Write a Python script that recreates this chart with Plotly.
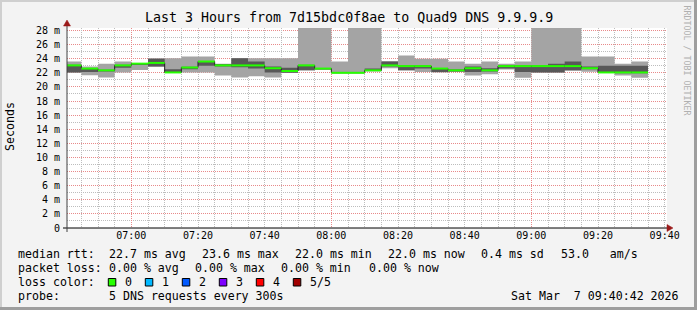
import plotly.graph_objects as go
import pandas as pd

# ---------------- data ----------------
bin_end = pd.date_range("2026-03-07 06:45:00", periods=35, freq="5min")
# sorted pings per 5 min step (ms): p1 <= p2 <= median <= p4 <= p5
ping_1 = [22.05, 21.65, 21.35, 22.05, 22.4, 22.85, 22.05, 22.05, 22.05, 21.6,
          21.35, 21.5, 21.35, 22.0, 22.3, 22.4, 22.0, 22.0, 22.2, 22.65,
          22.3, 22.1, 22.05, 22.1, 21.6, 21.8, 22.45, 21.3, 22.05, 22.05,
          22.3, 22.15, 22.05, 21.6, 21.3]
ping_2 = [22.05, 22.1, 22.2, 22.7, 23.1, 22.9, 22.05, 22.5, 23.0, 22.9,
          22.8, 22.6, 22.05, 22.0, 22.4, 22.5, 22.0, 22.0, 22.25, 22.9,
          22.4, 22.6, 22.1, 22.2, 22.1, 22.2, 22.6, 22.1, 22.05, 22.05,
          22.35, 22.5, 22.05, 21.95, 21.95]
median = [23.05, 22.6, 22.35, 23.05, 23.3, 23.4, 22.05, 22.75, 23.6, 23.05,
          23.05, 23.05, 22.65, 22.25, 23.05, 22.6, 22.0, 22.0, 22.35, 23.05,
          22.95, 22.95, 22.6, 22.35, 22.65, 22.35, 22.95, 22.95, 22.95, 22.95,
          22.95, 22.65, 22.05, 22.05, 22.05]
ping_4 = [23.05, 22.6, 22.4, 23.1, 23.35, 24.0, 22.5, 22.85, 23.65, 23.2,
          24.05, 23.6, 22.9, 22.7, 23.05, 22.6, 22.0, 22.0, 22.6, 23.6,
          22.95, 22.95, 22.65, 22.45, 22.9, 22.65, 23.0, 22.95, 22.95, 23.3,
          23.6, 22.9, 23.0, 23.0, 23.0]
ping_5 = [23.6, 22.9, 23.3, 23.6, 23.4, 24.05, 24.05, 24.3, 24.3, 23.3,
          24.05, 24.05, 24.05, 24.05, 35.0, 35.0, 23.6, 35.0, 35.0, 23.65,
          24.45, 24.0, 24.0, 23.6, 23.3, 23.6, 23.3, 23.6, 35.0, 35.0,
          35.0, 24.3, 24.3, 23.3, 23.6]

y_tick_vals = list(range(0, 29, 2))
y_tick_text = ["0"] + [f"{v} m" for v in y_tick_vals[1:]]
title_text = "Last 3 Hours from 7d15bdc0f8ae to Quad9 DNS 9.9.9.9"
row1 = ["median rtt:", "22.7 ms avg", "23.6 ms max", "22.0 ms min",
        "22.0 ms now", "0.4 ms sd", "53.0   am/s"]
row2 = ["packet loss:", "0.00 % avg", "0.00 % max", "0.00 % min", "0.00 % now"]
loss_labels = ["0", "1", "2", "3", "4", "5/5"]
loss_colors = ["#26ff00", "#00b8ff", "#0059ff", "#7e00ff", "#ff0000", "#a10000"]
probe_text = "5 DNS requests every 300s"
stamp_text = "Sat Mar  7 09:40:42 2026"

# ---------------- geometry ----------------
W, H = 697, 310
L, R, T, B = 67, 30, 28, 82
PW, PH = W - L - R, H - T - B
X0 = pd.Timestamp("2026-03-07 06:40:42")
X1 = pd.Timestamp("2026-03-07 09:40:42")
YMAX = 28.35
FONT = "DejaVu Sans Mono"


def fx(px):
    return (px - L) / PW


def fy(py):
    return (H - B - py) / PH


step = pd.Timedelta(minutes=5)
xs = list(bin_end - step) + [bin_end[-1]]


def ext(a):
    return list(a) + [a[-1]]


fig = go.Figure()
# smoke: outer band p1..p5, inner band p2..p4
fig.add_trace(go.Scatter(x=xs, y=ext(ping_1), mode="lines", line=dict(width=0, shape="hv"),
                         showlegend=False, hoverinfo="skip"))
fig.add_trace(go.Scatter(x=xs, y=ext(ping_5), mode="lines", line=dict(width=0, shape="hv"),
                         fill="tonexty", fillcolor="#a4a4a4", showlegend=False, hoverinfo="skip"))
fig.add_trace(go.Scatter(x=xs, y=ext(ping_2), mode="lines", line=dict(width=0, shape="hv"),
                         showlegend=False, hoverinfo="skip"))
fig.add_trace(go.Scatter(x=xs, y=ext(ping_4), mode="lines", line=dict(width=0, shape="hv"),
                         fill="tonexty", fillcolor="#585858", showlegend=False, hoverinfo="skip"))
# median: dark step line + green (0 loss) segments
fig.add_trace(go.Scatter(x=xs, y=ext(median), mode="lines",
                         line=dict(width=1, shape="hv", color="#202020"),
                         showlegend=False, hoverinfo="skip"))
gx, gy = [], []
for s, m in zip(bin_end, median):
    gx += [s - step, s, None]
    gy += [m, m, None]
fig.add_trace(go.Scatter(x=gx, y=gy, mode="lines", line=dict(width=2, color=loss_colors[0]),
                         showlegend=False, hoverinfo="skip"))
# dummy traces to activate grid overlay axes
for ax in ["x2", "x3"]:
    fig.add_trace(go.Scatter(x=[X0], y=[0], xaxis=ax, mode="markers",
                             marker=dict(opacity=0), showlegend=False, hoverinfo="skip"))

grid_gray = "#bdbdbd"
grid_red = "#e88a8a"
dash = "1px,1px"

fig.update_layout(
    width=W, height=H,
    margin=dict(l=L, r=R, t=T, b=B, pad=0),
    paper_bgcolor="#f3f3f3", plot_bgcolor="#ffffff",
    font=dict(family=FONT, size=10, color="#000000"),
    xaxis=dict(type="date", range=[X0, X1], showgrid=False, zeroline=False,
               tickmode="linear", tick0="2026-03-07 07:00:00", dtick=20 * 60 * 1000,
               tickformat="%H:%M", tickfont=dict(size=10, family=FONT),
               ticks="", showline=False),
    xaxis2=dict(type="date", range=[X0, X1], overlaying="x", showgrid=True,
                gridcolor=grid_gray, griddash=dash, gridwidth=1,
                tickmode="linear", tick0="2026-03-07 07:00:00", dtick=5 * 60 * 1000,
                showticklabels=False, ticks="", zeroline=False, showline=False),
    xaxis3=dict(type="date", range=[X0, X1], overlaying="x", showgrid=True,
                gridcolor=grid_red, griddash=dash, gridwidth=1,
                tickmode="linear", tick0="2026-03-07 07:00:00", dtick=60 * 60 * 1000,
                showticklabels=False, ticks="", zeroline=False, showline=False),
    yaxis=dict(range=[0, YMAX], tickmode="array", tickvals=y_tick_vals, ticktext=y_tick_text,
               showgrid=True, gridcolor=grid_red, griddash=dash, gridwidth=1,
               minor=dict(dtick=1, showgrid=True, gridcolor=grid_gray, griddash=dash, gridwidth=1),
               zeroline=False, showline=False, ticks="", ticklabelstandoff=6,
               tickfont=dict(size=10, family=FONT)),
)

shapes = []
# frame shading
shapes.append(dict(type="rect", xref="paper", yref="paper", x0=fx(0), x1=fx(W), y0=fy(2), y1=fy(0),
                   fillcolor="#cfcfcf", line=dict(width=0), layer="above"))
shapes.append(dict(type="rect", xref="paper", yref="paper", x0=fx(0), x1=fx(2), y0=fy(H), y1=fy(0),
                   fillcolor="#cfcfcf", line=dict(width=0), layer="above"))
shapes.append(dict(type="rect", xref="paper", yref="paper", x0=fx(0), x1=fx(W), y0=fy(H), y1=fy(H - 3),
                   fillcolor="#9e9e9e", line=dict(width=0), layer="above"))
shapes.append(dict(type="rect", xref="paper", yref="paper", x0=fx(W - 3), x1=fx(W), y0=fy(H), y1=fy(0),
                   fillcolor="#9e9e9e", line=dict(width=0), layer="above"))
# axes with arrows
ax_y = H - B
shapes.append(dict(type="line", xref="paper", yref="paper", x0=fx(63), x1=fx(668), y0=0, y1=0,
                   line=dict(color="#000000", width=1), layer="above"))
shapes.append(dict(type="line", xref="paper", yref="paper", x0=0, x1=0, y0=fy(ax_y + 4), y1=fy(24),
                   line=dict(color="#404040", width=1), layer="above"))
arrow = "#9b1a1a"
shapes.append(dict(type="path", xref="paper", yref="paper",
                   path=f"M {fx(667)},{fy(ax_y - 3.5)} L {fx(673)},{fy(ax_y)} L {fx(667)},{fy(ax_y + 3.5)} Z",
                   fillcolor=arrow, line=dict(color=arrow, width=0.5), layer="above"))
shapes.append(dict(type="path", xref="paper", yref="paper",
                   path=f"M {fx(L - 3.5)},{fy(26)} L {fx(L)},{fy(20)} L {fx(L + 3.5)},{fy(26)} Z",
                   fillcolor=arrow, line=dict(color=arrow, width=0.5), layer="above"))
# loss colour boxes
box_x = [108.3, 145.3, 182.3, 219.3, 256.3, 293.3]
for bx, col in zip(box_x, loss_colors):
    shapes.append(dict(type="rect", xref="paper", yref="paper", x0=fx(bx), x1=fx(bx + 7.5),
                       y0=fy(286), y1=fy(278.5), fillcolor=col, line=dict(color="#000000", width=1),
                       layer="above"))
fig.update_layout(shapes=shapes)

ann = []


def text(px, py, s, size=11.6, anchor="left", color="#000000", angle=0):
    ann.append(dict(x=fx(px), y=fy(py), xref="paper", yref="paper", text=s, showarrow=False,
                    xanchor=anchor, yanchor="middle", textangle=angle,
                    font=dict(family=FONT, size=size, color=color)))


text(348.5, 18, title_text, size=13.3, anchor="center")
text(10, 127, "Seconds", size=11.6, anchor="center", angle=-90)
text(686.5, 60, "RRDTOOL / TOBI OETIKER", size=8.3, anchor="center", color="#b0b0b0", angle=90)
for px, s in zip([16, 107.3, 200, 293.3, 386.3, 479.3, 559], row1):
    text(px, 254, s)
for px, s in zip([16, 107.3, 193.3, 279.3, 367], row2):
    text(px, 268.3, s)
text(16, 282.3, "loss color:")
for bx, lab in zip(box_x, loss_labels):
    text(bx + 15, 282.3, lab)
text(16, 296.3, "probe:")
text(107.3, 296.3, probe_text)
text(681, 296.3, stamp_text, anchor="right")
fig.update_layout(annotations=ann)

fig.write_html("out.html")
